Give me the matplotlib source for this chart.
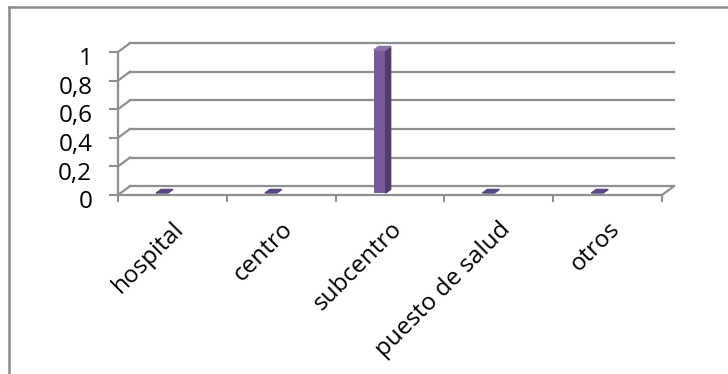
import matplotlib.pyplot as plt
from matplotlib.lines import Line2D
from matplotlib.patches import Polygon
from matplotlib.transforms import ScaledTranslation

# --- data ---
categories = ["hospital", "centro", "subcentro", "puesto de salud", "otros"]
values = [0, 0, 1, 0, 0]
y_ticks = [0, 0.2, 0.4, 0.6, 0.8, 1]
y_tick_labels = ["0", "0,2", "0,4", "0,6", "0,8", "1"]

# --- style ---
GRID = "#8f8f8f"
FRONT = "#765a9a"
SIDE = "#4f3c6c"
TOP = "#8c74ab"
FLAT = "#5a4680"
FONT_SIZE = 17.5
plt.rcParams["font.family"] = ["Open Sans", "DejaVu Sans"]

DEPTH_X, DEPTH_Y = 0.11, 0.062      # back wall offset (data units)
BAR_LEFT, BAR_W = 0.35, 0.11        # bar front face inside each category
BAR_BASE = 0.014
SIDE_X, SIDE_Y = 0.046, 0.025       # bar depth

fig = plt.figure(figsize=(7.28, 3.74), dpi=100)
ax = fig.add_axes([118 / 728, 1 - 195 / 374, 544 / 728, 143 / 374])
n = len(categories)
ax.set_xlim(0, n)
ax.set_ylim(0, 1)

for side in ("top", "right"):
    ax.spines[side].set_visible(False)
for side in ("left", "bottom"):
    ax.spines[side].set_color(GRID)
    ax.spines[side].set_linewidth(1.6)

# back wall grid with the short diagonals on the side wall
for y in y_ticks:
    ax.plot([DEPTH_X, n + DEPTH_X], [y + DEPTH_Y, y + DEPTH_Y],
            color=GRID, lw=1.6, clip_on=False, zorder=1)
    ax.plot([0, DEPTH_X], [y, y + DEPTH_Y], color=GRID, lw=1.6,
            clip_on=False, zorder=1)
ax.plot([n, n + DEPTH_X], [0, DEPTH_Y], color=GRID, lw=1.6, clip_on=False, zorder=1)

# bars: front face from ax.bar, side and top as polygons
lefts = [i + BAR_LEFT for i in range(n)]
for x0, v in zip(lefts, values):
    x1 = x0 + BAR_W
    if v > 0:
        ax.bar(x0, v, width=BAR_W, bottom=BAR_BASE, align="edge",
               color=FRONT, zorder=3, clip_on=False)
        top = BAR_BASE + v
        ax.add_patch(Polygon([(x1, BAR_BASE), (x1 + SIDE_X, BAR_BASE + SIDE_Y),
                              (x1 + SIDE_X, top + SIDE_Y), (x1, top)],
                             closed=True, color=SIDE, zorder=3, clip_on=False))
        ax.add_patch(Polygon([(x0, top), (x1, top), (x1 + SIDE_X, top + SIDE_Y),
                              (x0 + SIDE_X, top + SIDE_Y)],
                             closed=True, color=TOP, zorder=3, clip_on=False))
    else:
        ax.add_patch(Polygon([(x0, BAR_BASE), (x1, BAR_BASE),
                              (x1 + SIDE_X, BAR_BASE + SIDE_Y),
                              (x0 + SIDE_X, BAR_BASE + SIDE_Y)],
                             closed=True, color=FLAT, zorder=3, clip_on=False))

# y axis
ax.set_yticks(y_ticks)
ax.set_yticklabels(y_tick_labels, fontsize=FONT_SIZE)
ax.tick_params(axis="y", length=6.5, width=1.5, color=GRID, pad=12)
for lbl in ax.get_yticklabels():
    lbl.set_transform(lbl.get_transform() + ScaledTranslation(0, -3 / 72, fig.dpi_scale_trans))

# x axis: boundary tick marks, labels at category centres
ax.set_xticks(range(n + 1), minor=True)
ax.set_xticks([i + 0.5 for i in range(n)])
ax.set_xticklabels(categories, fontsize=FONT_SIZE, rotation=45, ha="right",
                   rotation_mode="anchor")
ax.tick_params(axis="x", which="major", length=0, pad=16)
ax.tick_params(axis="x", which="minor", length=5, width=1.5, color=GRID)

# chart frame
fig.add_artist(Line2D([9 / 728, 9 / 728], [0, 1 - 7 / 374], transform=fig.transFigure,
                      color="#8a8a8a", lw=1.8))
fig.add_artist(Line2D([9 / 728, 1], [1 - 7 / 374, 1 - 7 / 374], transform=fig.transFigure,
                      color="#8a8a8a", lw=1.8))

fig.savefig("out.png", dpi=100)
